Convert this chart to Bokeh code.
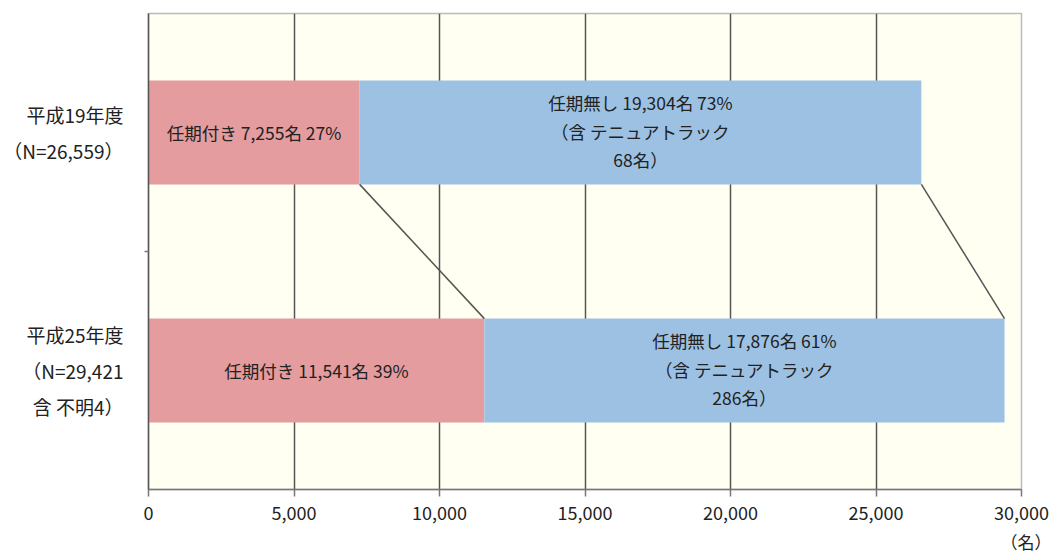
from bokeh.plotting import figure
from bokeh.models import Range1d, FixedTicker, NumeralTickFormatter, ColumnDataSource, Title
from bokeh.core.properties import value
from bokeh.embed import file_html
from bokeh.resources import INLINE

# --- data -------------------------------------------------------------
years = ["平成19年度", "平成25年度"]
year_notes = [["（N=26,559）"], ["（N=29,421", "含 不明4）"]]
fixed_term = [7255, 11541]          # 任期付き
fixed_pct = [27, 39]
permanent = [19304, 17876]          # 任期無し
permanent_pct = [73, 61]
tenure_track = [68, 286]            # うちテニュアトラック
x_ticks = [0, 5000, 10000, 15000, 20000, 25000, 30000]
unit_label = "（名）"

# --- layout -----------------------------------------------------------
W, H = 1059, 558
LEFT, RIGHT, TOP, BOTTOM = 148, 38, 13, 68
X_MAX = 30000
FONT_NAME = "Noto Sans CJK JP"
FONT = value(FONT_NAME)
TEXT_COLOR = "#222222"
PINK = "#E49C9F"
BLUE = "#9DC1E3"
BAR_H = 0.436

n = len(years)
ypos = [n - i - 0.5 for i in range(n)]  # first category on top

p = figure(width=W, height=H, x_range=Range1d(0, X_MAX), y_range=Range1d(0, n),
           output_backend="svg", toolbar_location=None,
           min_border_left=LEFT, min_border_right=RIGHT,
           min_border_top=TOP, min_border_bottom=BOTTOM,
           background_fill_color="#FFFFF2", border_fill_color="white",
           outline_line_color="#BBBBBB", outline_line_width=1.5)

# grid: vertical lines only, between the frame edges
p.ygrid.visible = False
p.xgrid.ticker = FixedTicker(ticks=x_ticks[1:-1])
p.xgrid.grid_line_color = "#555555"
p.xgrid.grid_line_width = 1.5

# x axis
xa = p.xaxis[0]
xa.ticker = FixedTicker(ticks=x_ticks)
xa.formatter = NumeralTickFormatter(format="0,0")
xa.axis_line_color = "#777777"
xa.axis_line_width = 1.5
xa.major_tick_line_color = "#777777"
xa.major_tick_line_width = 1.5
xa.major_tick_out = 7
xa.major_tick_in = 0
xa.minor_tick_line_color = None
xa.major_label_text_font = FONT_NAME
xa.major_label_text_font_size = "18px"
xa.major_label_text_color = TEXT_COLOR
xa.major_label_standoff = 9

# y axis: multi-line category labels at bar centres, small tick between them
ya = p.yaxis[0]
ya.ticker = FixedTicker(ticks=ypos, minor_ticks=[1])
ya.major_label_overrides = {y: "\n".join([yr] + notes)
                            for y, yr, notes in zip(ypos, years, year_notes)}
ya.axis_line_color = "#555555"
ya.axis_line_width = 1.5
ya.major_tick_line_color = None
ya.major_tick_out = 0
ya.major_tick_in = 0
ya.minor_tick_line_color = "#777777"
ya.minor_tick_line_width = 1.5
ya.minor_tick_out = 4
ya.minor_tick_in = 0
ya.major_label_text_font = FONT_NAME
ya.major_label_text_font_size = "19px"
ya.major_label_text_color = TEXT_COLOR
ya.major_label_text_align = "center"
ya.major_label_text_line_height = 1.32
ya.major_label_standoff = 21

# unit label under the right end of the x axis
p.add_layout(Title(text=unit_label, align="right", offset=-30, standoff=9,
                   text_font=FONT_NAME, text_font_size="17px",
                   text_font_style="normal", text_color=TEXT_COLOR), "below")

# bars
src = ColumnDataSource(dict(
    y=ypos,
    fixed=fixed_term,
    total=[a + b for a, b in zip(fixed_term, permanent)],
    fixed_mid=[a / 2 for a in fixed_term],
    perm_mid=[a + b / 2 for a, b in zip(fixed_term, permanent)],
    fixed_text=[f"任期付き {v:,}名 {pc}%" for v, pc in zip(fixed_term, fixed_pct)],
    perm_text1=[f"任期無し {v:,}名 {pc}%" for v, pc in zip(permanent, permanent_pct)],
    perm_text2=["（含 テニュアトラック" for _ in permanent],
    perm_text3=[f"{t}名）" for t in tenure_track],
))
p.hbar(y="y", left=0, right="fixed", height=BAR_H, fill_color=PINK, line_color=None, source=src)
p.hbar(y="y", left="fixed", right="total", height=BAR_H, fill_color=BLUE, line_color=None, source=src)

# connectors from the first bar's segment ends to the second bar's
p.segment(x0=[fixed_term[0], fixed_term[0] + permanent[0]],
          y0=[ypos[0] - BAR_H / 2] * 2,
          x1=[fixed_term[1], fixed_term[1] + permanent[1]],
          y1=[ypos[1] + BAR_H / 2] * 2,
          line_color="#555555", line_width=1.5)

# in-bar labels
text_kw = dict(text_font=FONT, text_font_size="17.5px", text_color=TEXT_COLOR,
               text_align="center", text_baseline="middle", source=src)
p.text(x="fixed_mid", y="y", text="fixed_text", **text_kw)
p.text(x="perm_mid", y="y", text="perm_text1", y_offset=-30, **text_kw)
p.text(x="perm_mid", y="y", text="perm_text2", y_offset=-1, **text_kw)
p.text(x="perm_mid", y="y", text="perm_text3", y_offset=27, **text_kw)

open("out.html", "w").write(file_html(p, INLINE))
